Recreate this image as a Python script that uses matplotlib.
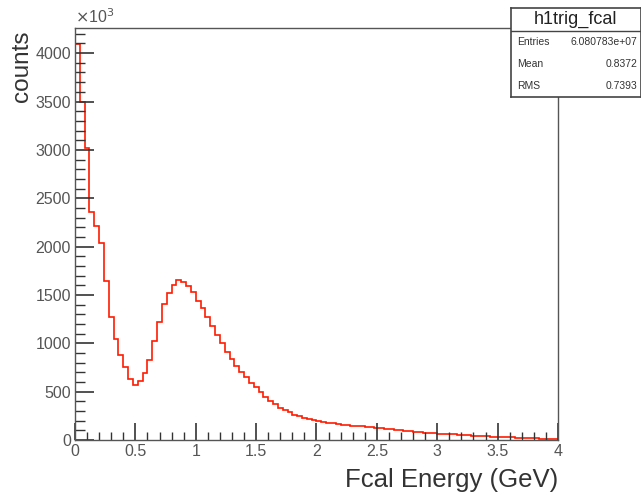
import numpy as np
import matplotlib
matplotlib.use("Agg")
import matplotlib.pyplot as plt
from matplotlib.ticker import MultipleLocator

plt.rcParams['font.family'] = ['Liberation Sans', 'DejaVu Sans']

# bin contents (x10^3), 100 bins of 0.04 GeV between 0 and 4 GeV
counts = [4090, 3500, 3020, 2360, 2215, 2040, 1640, 1270, 1045, 880,
          755, 635, 570, 610, 690, 830, 1020, 1225, 1405, 1525,
          1605, 1650, 1635, 1590, 1530, 1440, 1360, 1270, 1175, 1085,
          1000, 915, 835, 765, 705, 648, 592, 545, 492, 445,
          405, 368, 335, 308, 285, 262, 245, 232, 220, 208,
          198, 188, 180, 172, 165, 158, 153, 148, 144, 140,
          136, 131, 126, 120, 114, 109, 104, 99, 95, 90,
          85, 81, 77, 73, 69, 66, 63, 60, 57, 54,
          51, 48, 45, 42, 40, 38, 35, 33, 31, 29,
          27, 25, 23, 21, 19, 17, 15, 13, 12, 10]
x_min, x_max = 0.0, 4.0
edges = np.linspace(x_min, x_max, len(counts) + 1)

stats_labels = ['Entries', 'Mean', 'RMS']
stats_values = ['6.080783e+07', '0.8372', '0.7393']
hist_name = 'h1trig_fcal'

fig = plt.figure(figsize=(6.41, 5.0), dpi=100)
ax = fig.add_axes([0.117, 0.12, 0.7535, 0.824])

ax.stairs(counts, edges, color='#ff1a00', linewidth=1.2)

ax.set_xlim(x_min, x_max)
ax.set_ylim(0, 4260)

frame_col = '#555555'
for s in ax.spines.values():
    s.set_color(frame_col)
    s.set_linewidth(1.0)

ax.xaxis.set_major_locator(MultipleLocator(0.5))
ax.xaxis.set_minor_locator(MultipleLocator(0.1))
ax.yaxis.set_major_locator(MultipleLocator(500))
ax.yaxis.set_minor_locator(MultipleLocator(100))
ax.xaxis.set_major_formatter(plt.FuncFormatter(lambda v, p: f'{v:g}'))
ax.tick_params(which='both', direction='in', colors='#333333',
               labelcolor='#555555', labelsize=11.5)
ax.tick_params(axis='y', which='major', length=14, width=1.2, pad=3)
ax.tick_params(axis='y', which='minor', length=7, width=1.0)
ax.tick_params(axis='x', which='major', length=12, width=1.2, pad=3)
ax.tick_params(axis='x', which='minor', length=6, width=1.0)

ax.set_xlabel('Fcal Energy (GeV)', fontsize=18.5, color='#333333',
              loc='right', labelpad=6)
ax.set_ylabel('counts', fontsize=17.5, color='#333333', loc='top')
ax.yaxis.set_label_coords(-0.087, 0.995)
fig.text(0.117, 0.948, r'$\times$10$^3$', fontsize=11.5, color='#555555',
         ha='left', va='bottom')

# stats box
bx0, by0, bw, bh = 0.797, 0.806, 0.203, 0.178
box = fig.add_axes([bx0, by0, bw, bh])
box.set_xlim(0, 1)
box.set_ylim(0, 1)
box.set_xticks([])
box.set_yticks([])
box.patch.set_facecolor('white')
for s in box.spines.values():
    s.set_color('#444444')
    s.set_linewidth(1.2)
box.axhline(0.74, color='#444444', linewidth=1.0)
box.text(0.5, 0.87, hist_name, ha='center', va='center', fontsize=13,
         color='#222222')
ys = [0.618, 0.37, 0.124]
for lab, val, yy in zip(stats_labels, stats_values, ys):
    box.text(0.045, yy, lab, ha='left', va='center', fontsize=7.5,
             color='#333333')
    box.text(0.97, yy, val, ha='right', va='center', fontsize=7.5,
             color='#333333')

fig.savefig('out.png', dpi=100, facecolor='white')
